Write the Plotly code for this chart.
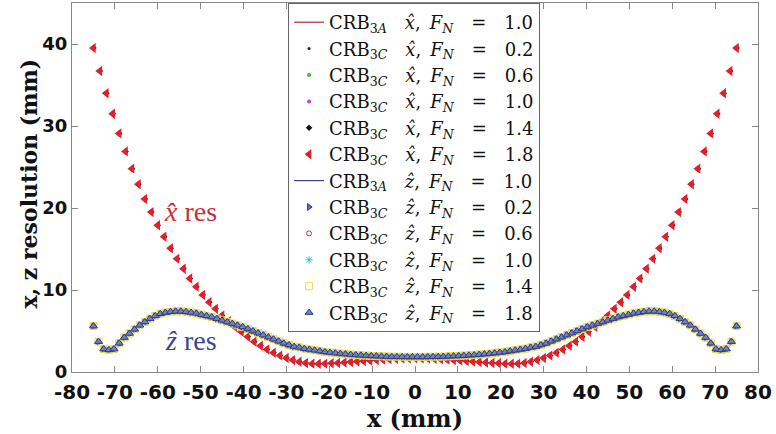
import plotly.graph_objects as go

# Lateral position (mm) of the x-resolution samples and the CRB x-resolution (mm)
x_pos_xres = [
    -75.0, -73.5, -72.0, -70.5, -69.0, -67.5, -66.0, -64.5, -63.0, -61.5,
    -60.0, -58.5, -57.0, -55.5, -54.0, -52.5, -51.0, -49.5, -48.0, -46.5,
    -45.0, -43.5, -42.0, -40.5, -39.0, -37.5, -36.0, -34.5, -33.0, -31.5,
    -30.0, -28.5, -27.0, -25.5, -24.0, -22.5, -21.0, -19.5, -18.0, -16.5,
    -15.0, -13.5, -12.0, -10.5, -9.0, -7.5, -6.0, -4.5, -3.0, -1.5,
    0.0,
    1.5, 3.0, 4.5, 6.0, 7.5, 9.0, 10.5, 12.0, 13.5, 15.0,
    16.5, 18.0, 19.5, 21.0, 22.5, 24.0, 25.5, 27.0, 28.5, 30.0,
    31.5, 33.0, 34.5, 36.0, 37.5, 39.0, 40.5, 42.0, 43.5, 45.0,
    46.5, 48.0, 49.5, 51.0, 52.5, 54.0, 55.5, 57.0, 58.5, 60.0,
    61.5, 63.0, 64.5, 66.0, 67.5, 69.0, 70.5, 72.0, 73.5, 75.0,
]
x_res = [
    39.5, 36.7, 34.0, 31.5, 29.1, 26.9, 24.8, 22.9, 21.1, 19.5,
    17.9, 16.5, 15.1, 13.8, 12.6, 11.4, 10.4, 9.4, 8.5, 7.7,
    6.9, 6.2, 5.5, 4.9, 4.3, 3.7, 3.2, 2.75, 2.35, 2.0,
    1.7, 1.45, 1.25, 1.1, 1.02, 1.0, 1.02, 1.06, 1.1, 1.16,
    1.22, 1.28, 1.34, 1.4, 1.46, 1.52, 1.57, 1.61, 1.64, 1.66,
    1.67,
    1.66, 1.64, 1.61, 1.57, 1.52, 1.46, 1.4, 1.34, 1.28, 1.22,
    1.16, 1.1, 1.06, 1.02, 1.0, 1.02, 1.1, 1.25, 1.45, 1.7,
    2.0, 2.35, 2.75, 3.2, 3.7, 4.3, 4.9, 5.5, 6.2, 6.9,
    7.7, 8.5, 9.4, 10.4, 11.4, 12.6, 13.8, 15.1, 16.5, 17.9,
    19.5, 21.1, 22.9, 24.8, 26.9, 29.1, 31.5, 34.0, 36.7, 39.5,
]

# Lateral position (mm) of the z-resolution samples and the CRB z-resolution (mm)
x_pos_zres = [
    -75.0, -73.8, -72.6, -71.4, -70.2, -69.0, -67.8, -66.6, -65.4, -64.2,
    -63.0, -61.8, -60.6, -59.4, -58.2, -57.0, -55.8, -54.6, -53.4, -52.2,
    -51.0, -49.8, -48.6, -47.4, -46.2, -45.0, -43.8, -42.6, -41.4, -40.2,
    -39.0, -37.8, -36.6, -35.4, -34.2, -33.0, -31.8, -30.6, -29.4, -28.2,
    -27.0, -25.8, -24.6, -23.4, -22.2, -21.0, -19.8, -18.6, -17.4, -16.2,
    -15.0, -13.8, -12.6, -11.4, -10.2, -9.0, -7.8, -6.6, -5.4, -4.2,
    -3.0, -1.8, -0.6,
    0.6, 1.8, 3.0, 4.2, 5.4, 6.6, 7.8, 9.0, 10.2, 11.4,
    12.6, 13.8, 15.0, 16.2, 17.4, 18.6, 19.8, 21.0, 22.2, 23.4,
    24.6, 25.8, 27.0, 28.2, 29.4, 30.6, 31.8, 33.0, 34.2, 35.4,
    36.6, 37.8, 39.0, 40.2, 41.4, 42.6, 43.8, 45.0, 46.2, 47.4,
    48.6, 49.8, 51.0, 52.2, 53.4, 54.6, 55.8, 57.0, 58.2, 59.4,
    60.6, 61.8, 63.0, 64.2, 65.4, 66.6, 67.8, 69.0, 70.2, 71.4,
    72.6, 73.8, 75.0,
]
z_res = [
    5.6, 3.7, 2.8, 2.7, 2.8, 3.5, 4.2, 4.7, 5.2, 5.7,
    6.1, 6.5, 6.85, 7.1, 7.25, 7.35, 7.4, 7.4, 7.35, 7.25,
    7.15, 7.0, 6.85, 6.7, 6.5, 6.3, 6.1, 5.9, 5.7, 5.5,
    5.25, 5.0, 4.75, 4.5, 4.25, 4.0, 3.75, 3.5, 3.3, 3.1,
    3.0, 2.85, 2.75, 2.65, 2.55, 2.45, 2.38, 2.3, 2.24, 2.18,
    2.13, 2.08, 2.04, 2.0, 1.97, 1.94, 1.91, 1.89, 1.87, 1.86,
    1.85, 1.84, 1.84,
    1.84, 1.84, 1.85, 1.86, 1.87, 1.89, 1.91, 1.94, 1.97, 2.0,
    2.04, 2.08, 2.13, 2.18, 2.24, 2.3, 2.38, 2.45, 2.55, 2.65,
    2.75, 2.85, 3.0, 3.1, 3.3, 3.5, 3.75, 4.0, 4.25, 4.5,
    4.75, 5.0, 5.25, 5.5, 5.7, 5.9, 6.1, 6.3, 6.5, 6.7,
    6.85, 7.0, 7.15, 7.25, 7.35, 7.4, 7.4, 7.35, 7.25, 7.1,
    6.85, 6.5, 6.1, 5.7, 5.2, 4.7, 4.2, 3.5, 2.8, 2.7,
    2.8, 3.7, 5.6,
]

fn_values = ["0.2", "0.6", "1.0", "1.4", "1.8"]
x_tick_vals = [-80, -70, -60, -50, -40, -30, -20, -10, 0, 10, 20, 30, 40, 50, 60, 70, 80]
x_tick_text = ["-80", "-70", "-60", "-50", "-40", "-30", "-20", "-10", "0",
               "10", "20", "30", "40", "50", "60", "70", "80"]
y_tick_vals = [0, 10, 20, 30, 40]

XHAT = "<i>x\u0302</i>"
ZHAT = "<i>z\u0302</i>"
EN = "\u2002"  # en space
EM = "\u2003"  # em space


def label(model, var, fn):
    return (f"CRB<sub>3<i>{model}</i></sub>{EM}{var},{EN}"
            f"<i>F<sub>N</sub></i>{EM}={EM}{fn}")


# marker styling for the five normal-force factors of each resolution set
x_styles = [
    dict(symbol="circle", size=3, color="#222222"),
    dict(symbol="circle", size=4, color="#3cb043"),
    dict(symbol="circle", size=4, color="#c040c8"),
    dict(symbol="diamond", size=5, color="#111111"),
    dict(symbol="triangle-left", size=9, color="#e0202c"),
]
z_styles = [
    dict(symbol="triangle-right", size=6, color="#6470c0",
         line=dict(color="#3030a0", width=1)),
    dict(symbol="circle-open", size=5, color="#d03040", line=dict(width=1)),
    dict(symbol="asterisk-open", size=6, color="#40c0c8", line=dict(width=1)),
    dict(symbol="square-open", size=7, color="#e8e040", line=dict(width=1)),
    dict(symbol="triangle-up", size=7, color="#7480c4",
         line=dict(color="#2e3a8a", width=1)),
]

fig = go.Figure()

fig.add_trace(go.Scatter(x=[None], y=[None], mode="lines",
                         line=dict(color="#b02838", width=1.2),
                         name=label("A", XHAT, "1.0")))
for fn, st in zip(fn_values, x_styles):
    fig.add_trace(go.Scatter(x=x_pos_xres, y=x_res, mode="markers",
                             marker=st, name=label("C", XHAT, fn)))

fig.add_trace(go.Scatter(x=[None], y=[None], mode="lines",
                         line=dict(color="#404090", width=1.2),
                         name=label("A", ZHAT, "1.0")))
for fn, st in zip(fn_values, z_styles):
    fig.add_trace(go.Scatter(x=x_pos_zres, y=z_res, mode="markers",
                             marker=st, name=label("C", ZHAT, fn)))

fig.add_annotation(x=-52.4, y=19.6, text=f"{XHAT} res", showarrow=False,
                   font=dict(family="Liberation Serif", size=28, color="#c8303a"))
fig.add_annotation(x=-52.2, y=3.9, text=f"{ZHAT} res", showarrow=False,
                   font=dict(family="Liberation Serif", size=28, color="#3a4496"))

# y-axis title, placed just left of the tick labels
fig.add_annotation(xref="paper", yref="paper", x=-0.063, y=0.51,
                   text="<b>x, z resolution (mm)</b>", textangle=-90,
                   showarrow=False, xanchor="center", yanchor="middle",
                   font=dict(family="DejaVu Serif", size=22, color="#111111"))

axis_common = dict(
    showline=True, linecolor="#888888", linewidth=1, mirror="ticks",
    ticks="inside", ticklen=6, tickcolor="#888888",
    showgrid=False, zeroline=False,
)

fig.update_layout(
    width=776, height=434,
    margin=dict(l=72, r=18, t=3, b=62),
    paper_bgcolor="white", plot_bgcolor="white",
    showlegend=True,
    legend=dict(
        x=0.315, y=1.0, xanchor="left", yanchor="top",
        bgcolor="white", bordercolor="#666666", borderwidth=1,
        font=dict(family="DejaVu Serif", size=18, color="#111111"),
        tracegroupgap=0, itemsizing="trace",
    ),
    xaxis=dict(
        range=[-80, 80], tickvals=x_tick_vals, ticktext=x_tick_text, tickangle=0,
        ticklabelstandoff=2,
        tickfont=dict(family="DejaVu Sans", size=20, color="#111111", weight="bold"),
        title=dict(text="<b>x (mm)</b>", standoff=0,
                   font=dict(family="DejaVu Serif", size=24, color="#111111")),
        **axis_common,
    ),
    yaxis=dict(
        range=[0, 45], tickvals=y_tick_vals,
        tickfont=dict(family="DejaVu Sans", size=18, color="#111111", weight="bold"),
        **axis_common,
    ),
)

fig.write_html("out.html")
